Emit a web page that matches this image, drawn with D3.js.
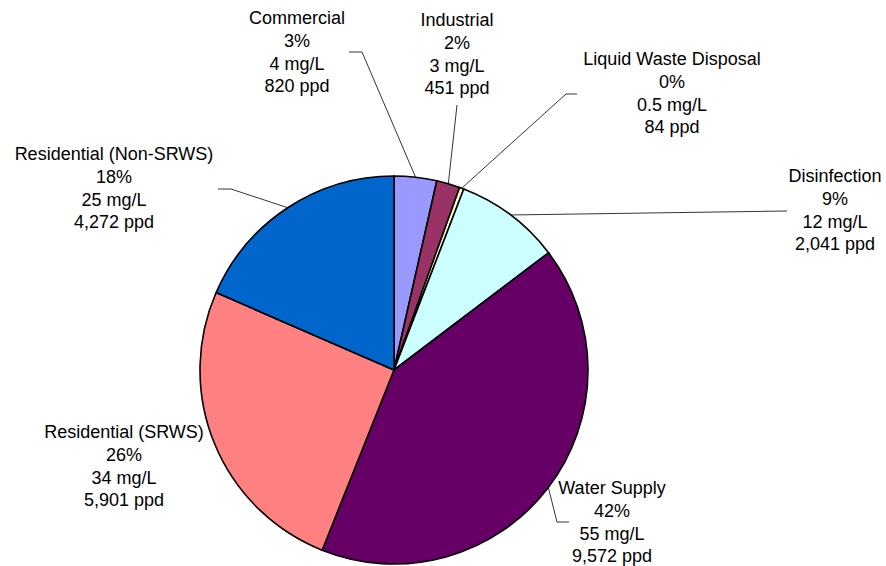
<!DOCTYPE html>
<html>
<head>
<meta charset="utf-8">
<script src="https://cdn.jsdelivr.net/npm/d3@7"></script>
<style>
  body { margin: 0; background: #fff; }
  text { font-family: "Liberation Sans", Arial, sans-serif; font-size: 18px; fill: #000; }
</style>
</head>
<body>
<div id="chart"></div>
<script>
const svgWidth = 886;
const svgHeight = 566;

// data
const categories = ["Commercial", "Industrial", "Liquid Waste Disposal", "Disinfection",
  "Water Supply", "Residential (SRWS)", "Residential (Non-SRWS)"];
const pctLabels = ["3%", "2%", "0%", "9%", "42%", "26%", "18%"];
const mgLabels = ["4 mg/L", "3 mg/L", "0.5 mg/L", "12 mg/L", "55 mg/L", "34 mg/L", "25 mg/L"];
const ppd = [820, 451, 84, 2041, 9572, 5901, 4272];
const colors = ["#9999FF", "#993366", "#FFFFCC", "#CCFFFF", "#660066", "#FF8080", "#0066CC"];

// label placement: centre x, first baseline, leader bend points (label side)
const lblpos = [
  { x: 297, y: 24, lead: [[349, 52], [362, 52]] },
  { x: 457, y: 26, lead: [[457, 105]] },
  { x: 672, y: 65, lead: [[577, 94], [566, 94]] },
  { x: 835, y: 182, lead: [[787, 211]] },
  { x: 612, y: 494, lead: [[569, 522], [557, 522]] },
  { x: 124, y: 438, lead: [] },
  { x: 114, y: 160, lead: [[218, 189], [231, 189]] }
];

const cx = 394, cy = 370, radius = 194;
const lineH = 22.8;

let svg = d3.select("#chart").append("svg").attr("width", svgWidth).attr("height", svgHeight);

let data = categories.map((c, i) => ({ name: c, pct: pctLabels[i], mg: mgLabels[i], ppd: ppd[i], color: colors[i], pos: lblpos[i] }));

let pie = d3.pie().sort(null).value(d => d.ppd);
let arcs = pie(data);
let arc = d3.arc().innerRadius(0).outerRadius(radius);
let edge = d3.arc().innerRadius(radius).outerRadius(radius);

let pgrp = svg.append("g").attr("transform", `translate(${cx}, ${cy})`);
pgrp.selectAll("path")
  .data(arcs)
  .enter()
  .append("path")
  .attr("d", arc)
  .attr("fill", d => d.data.color)
  .attr("stroke", "#000")
  .attr("stroke-width", 1.6)
  .attr("stroke-linejoin", "round");

// leader lines
let line = d3.line();
arcs.forEach(d => {
  if (!d.data.pos.lead.length) return;
  let c = edge.centroid(d);
  let pts = d.data.pos.lead.concat([[cx + c[0], cy + c[1]]]);
  svg.append("path")
    .attr("d", line(pts))
    .attr("fill", "none")
    .attr("stroke", "#000")
    .attr("stroke-width", 0.8);
});

// labels
arcs.forEach(d => {
  let p = d.data.pos;
  let t = svg.append("text").attr("text-anchor", "middle");
  [d.data.name, d.data.pct, d.data.mg, d3.format(",")(d.data.ppd) + " ppd"].forEach((s, i) => {
    t.append("tspan").attr("x", p.x).attr("y", p.y + i * lineH).text(s);
  });
});
</script>
</body>
</html>
